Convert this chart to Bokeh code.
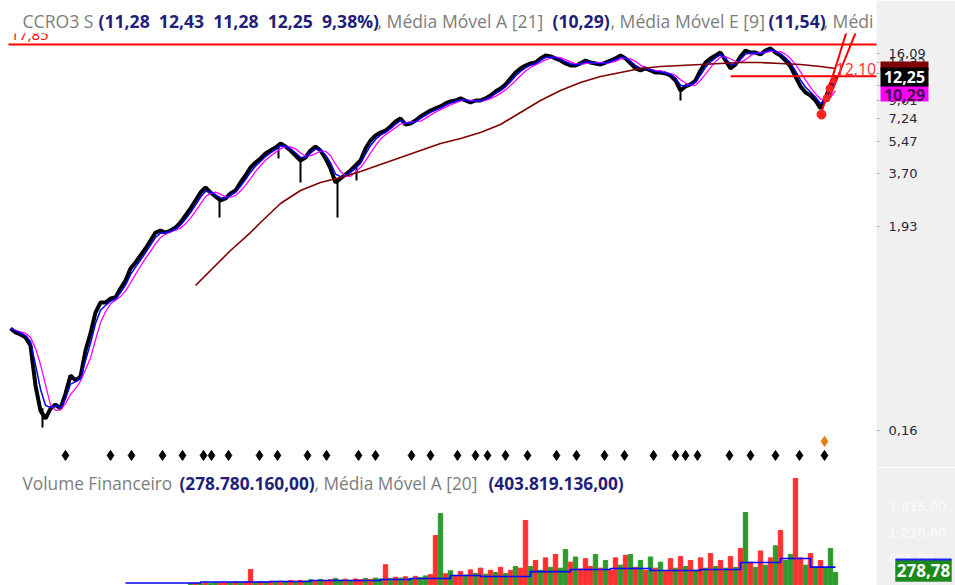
import math
import pandas as pd
from bokeh.plotting import figure
from bokeh.layouts import column
from bokeh.models import Range1d, FixedTicker, Label, BoxAnnotation
from bokeh.embed import file_html
from bokeh.resources import INLINE

# ---------------- data (weekly bars, sampled) ----------------
price_start, price_step = 10, 5
close = [
    0.556, 0.530, 0.517, 0.499, 0.452, 0.277, 0.204, 0.185, 0.209, 0.220,
    0.209, 0.251, 0.313, 0.295, 0.309, 0.425, 0.524, 0.676, 0.764, 0.764,
    0.803, 0.812, 0.907, 1.000, 1.158, 1.245, 1.357, 1.478, 1.630, 1.796,
    1.841, 1.796, 1.841, 1.909, 2.030, 2.212, 2.410, 2.657, 2.929, 3.113,
    2.929, 2.790, 2.657, 2.723, 2.895, 3.002, 3.309, 3.605, 3.975, 4.225,
    4.439, 4.718, 4.893, 5.075, 5.332, 5.140, 4.893, 4.603, 4.331, 4.491,
    4.893, 5.140, 4.893, 4.439, 3.928, 3.309, 3.477, 3.649, 3.832, 4.074,
    4.331, 5.015, 5.529, 5.877, 6.095, 6.247, 6.562, 6.975, 7.235, 6.721,
    6.807, 7.059, 7.415, 7.692, 7.976, 8.175, 8.379, 8.691, 8.906, 9.013,
    9.238, 9.013, 8.794, 9.013, 9.013, 9.238, 9.581, 10.06, 10.43, 10.96,
    11.80, 12.68, 13.33, 13.82, 14.17, 14.33, 15.06, 15.62, 15.43, 15.06,
    14.69, 14.17, 13.82, 13.82, 14.17, 14.69, 14.33, 14.17, 13.99, 14.33,
    14.69, 15.06, 15.62, 15.06, 14.17, 13.33, 13.00, 13.33, 13.00, 12.68,
    12.68, 12.53, 12.23, 11.51, 10.18, 10.70, 10.96, 11.51, 13.00, 14.33,
    15.06, 15.62, 16.19, 14.69, 13.33, 13.99, 15.43, 16.60, 16.19, 16.19,
    15.81, 16.60, 17.02, 16.19, 15.62, 14.69, 13.65, 12.08, 10.70, 9.93,
    9.581, 9.013, 8.175, 9.238, 10.96, 12.25,
]
bars = [price_start + price_step * i for i in range(len(close))]

# notable wicks (bar, low, high)
wick_bar = [42, 219, 278, 300, 337, 356, 680]
wick_low = [0.166, 2.158, 4.44, 3.31, 2.158, 3.39, 9.01]
wick_high = [0.21, 2.79, 5.20, 4.40, 3.40, 4.20, 10.5]

ma200_x = [195, 210, 230, 250, 260, 280, 300, 320, 340, 360, 380, 400, 420, 440, 460, 480, 500,
           520, 540, 560, 580, 600, 620, 640, 660, 680, 700, 720, 740, 760, 780, 800, 820, 835]
ma200 = [0.941, 1.130, 1.442, 1.796, 2.030, 2.561, 3.002, 3.309, 3.517, 3.786, 4.124, 4.491,
         4.893, 5.332, 5.668, 6.095, 6.721, 7.782, 9.013, 10.18, 11.23, 12.08, 12.68, 13.33,
         13.65, 13.82, 13.99, 14.17, 14.33, 14.33, 14.17, 13.99, 13.65, 13.33]

event_bars = [65, 110, 131, 162, 182, 203, 211, 228, 259, 277, 307, 326, 358, 375, 411, 430, 457,
              475, 487, 505, 527, 556, 576, 604, 624, 653, 675, 685, 697, 729, 750, 775, 799, 824]
event_level = 0.118
next_event_bar, next_event_level = 824, 0.140

price_ticks = [0.16, 1.93, 3.70, 5.47, 7.24, 9.01, 10.78, 12.55, 14.32, 16.09]
price_tick_labels = ["0,16", "1,93", "3,70", "5,47", "7,24", "9,01", "10,78", "12,55", "14,32", "16,09"]

resistance = 17.85
resistance_from = 8
support = 12.10
support_from = 730
trend1 = ([820, 848], [7.50, 22.5])
trend2 = ([829, 858], [9.35, 22.5])
anchor_x = [821, 826, 829, 833]
anchor_y = [7.59, 9.24, 10.43, 11.51]

vol_start, vol_step = 190, 5
volume = [
    20, 35, 25, 40, 30, 45, 35, 50, 40, 55,
    45, 60, 350, 50, 70, 55, 75, 60, 80, 70,
    90, 75, 95, 80, 110, 90, 120, 85, 115, 140,
    100, 125, 95, 130, 110, 140, 120, 150, 130, 460,
    140, 170, 150, 180, 140, 190, 160, 200, 230, 1140,
    1650, 250, 320, 210, 300, 220, 340, 260, 380, 240,
    330, 280, 400, 260, 330, 420, 380, 1490, 420, 560,
    330, 620, 400, 700, 380, 815, 520, 640, 360, 600,
    420, 700, 380, 560, 330, 620, 450, 680, 700, 400,
    560, 330, 640, 380, 520, 300, 600, 380, 650, 420,
    560, 330, 620, 380, 720, 420, 560, 380, 650, 400,
    840, 1675, 520, 400, 780, 450, 620, 900, 1255, 560,
    700, 2466, 620, 450, 720, 400, 560, 380, 840, 279,
]
direction = ("grgrggrrgr" "grrgrgrgrg" "rgrggrgrrg" "grgrrgrggr" "grgrgrggrr"
             "grgrrgrgrg" "rgrgrgrrgr" "grgrggrgrr" "rgrgrrgrgr" "grgrgrrgrg"
             "rgrgrgrgrg" "rgrgrgrgrg" "grrgrgrggg")
vol_bars = [vol_start + vol_step * i for i in range(len(volume))]

vol_ma_x = [125, 200, 270, 310, 380, 410, 450, 480, 530, 570, 610, 650, 700, 740, 780, 810, 835]
vol_ma = [35, 58, 70, 93, 116, 140, 210, 186, 300, 350, 372, 326, 350, 512, 605, 404, 404]

vol_ticks = [605, 1210, 1815]
vol_tick_labels = ["605,00", "1.210,00", "1.815,00"]

# ---------------- layout constants ----------------
W = 955
AXIS_X = 876
P_H = 467
V_H = 118
P_LO, P_HI = 0.1018, 30.57
V_LO, V_HI = -23, 2722

GRAY = "#7d7d7d"
NAVY = "#1f1f7a"
FONT = "Open Sans"
PANEL = "#f0f0f0"


def py(row):
    """price at a screen row of the price panel (annotation placement only)"""
    a, b = math.log10(P_LO), math.log10(P_HI)
    return 10 ** (a + (P_H - row) / P_H * (b - a))


def vy(row):
    return V_LO + (V_H - (row - P_H)) / V_H * (V_HI - V_LO)


xr = Range1d(0, W)


def setup(fig, ticks, labels, label_color, tick_color):
    fig.background_fill_color = "white"
    fig.border_fill_color = PANEL
    fig.outline_line_color = None
    fig.grid.visible = False
    ax = fig.yaxis[0]
    ax.fixed_location = AXIS_X
    ax.ticker = FixedTicker(ticks=ticks, minor_ticks=[])
    ax.major_label_overrides = dict(zip(ticks, labels))
    ax.axis_line_color = None
    ax.major_tick_in = 0
    ax.major_tick_out = 3
    ax.major_tick_line_color = tick_color
    ax.major_label_standoff = 9
    ax.major_label_text_font = "DejaVu Sans"
    ax.major_label_text_font_size = "13px"
    ax.major_label_text_color = label_color
    fig.add_layout(BoxAnnotation(left=AXIS_X, fill_color=PANEL, fill_alpha=1.0,
                                 line_color=None, level="underlay"))


# ---------------- price panel ----------------
p = figure(width=W, height=P_H, x_range=xr, y_range=Range1d(P_LO, P_HI), y_axis_type="log",
           x_axis_location=None, y_axis_location="right", toolbar_location=None,
           output_backend="svg", min_border=0)
setup(p, price_ticks, price_tick_labels, "#2a2a3a", "#b0b0b0")

s_close = pd.Series(close)
ema9 = s_close.ewm(alpha=0.6, adjust=False).mean()
sma21 = s_close.rolling(4, min_periods=1).mean()

p.line(bars, close, line_color="black", line_width=4)
p.segment(wick_bar, wick_low, wick_bar, wick_high, line_color="black", line_width=2)
p.line(bars, sma21, line_color="#ff00ff", line_width=1.3)
p.line(bars, ema9, line_color="#0000ff", line_width=1.5)
p.line(ma200_x, ma200, line_color="#800000", line_width=1.6)

p.scatter(event_bars, [event_level] * len(event_bars), marker="diamond", size=10, color="black")
p.scatter([next_event_bar], [next_event_level], marker="diamond", size=10, color="#e87d10")

p.line([resistance_from, AXIS_X], [resistance, resistance], line_color="#ff0000", line_width=2)
p.line([support_from, AXIS_X], [support, support], line_color="#ff0000", line_width=2)
p.line(trend1[0], trend1[1], line_color="#ff0000", line_width=2)
p.line(trend2[0], trend2[1], line_color="#ff0000", line_width=2)
p.scatter(anchor_x, anchor_y, size=[9, 7, 7, 6], color="#ff2020")

p.add_layout(Label(x=10, y=py(34), text="17,85", text_color="#ff0000", text_font=FONT,
                   text_font_size="15px", text_baseline="middle"))
p.add_layout(Label(x=835, y=py(68), text="12,10", text_color="#ff3030", text_font=FONT,
                   text_font_size="16px", text_baseline="middle"))
p.add_layout(BoxAnnotation(bottom=py(33), right=AXIS_X, fill_color="white", fill_alpha=1.0,
                           line_color=None))

price_title = [
    ("CCRO3 S", 22, GRAY, "normal"),
    ("(11,28\u00a0 12,43\u00a0 11,28\u00a0 12,25\u00a0 9,38%)", 98, NAVY, "bold"),
    (", Média Móvel A [21]", 377, GRAY, "normal"),
    ("(10,29)", 552, NAVY, "bold"),
    (", Média Móvel E [9]", 610, GRAY, "normal"),
    ("(11,54)", 768, NAVY, "bold"),
    (", Médi", 823, GRAY, "normal"),
]
for txt, x0, col, st in price_title:
    p.add_layout(Label(x=x0, y=py(20), text=txt, text_color=col, text_font=FONT,
                       text_font_style=st, text_font_size="17.6px", text_baseline="middle"))

# value boxes on the price scale
p.add_layout(BoxAnnotation(left=880, right=928, bottom=py(70), top=py(61),
                           fill_color="#800000", fill_alpha=1.0, line_color=None))
p.add_layout(BoxAnnotation(left=880, right=928, bottom=py(101), top=py(85),
                           fill_color="#ff00ff", fill_alpha=1.0, line_color=None))
p.add_layout(Label(x=904, y=py(94), text="10,29", text_color="#4a004a", text_font=FONT,
                   text_font_style="bold", text_font_size="16px", text_align="center",
                   text_baseline="middle"))
p.add_layout(BoxAnnotation(left=880, right=928, bottom=py(86), top=py(67),
                           fill_color="black", fill_alpha=1.0, line_color=None))
p.add_layout(Label(x=904, y=py(76.5), text="12,25", text_color="white", text_font=FONT,
                   text_font_style="bold", text_font_size="16px", text_align="center",
                   text_baseline="middle"))

# ---------------- volume panel ----------------
v = figure(width=W, height=V_H, x_range=xr, y_range=Range1d(V_LO, V_HI),
           x_axis_location=None, y_axis_location="right", toolbar_location=None,
           output_backend="svg", min_border=0)
setup(v, vol_ticks, vol_tick_labels, "#fbfbfb", "#fafafa")

colors = ["#2e9a2e" if d == "g" else "#ff3030" for d in direction]
v.vbar(x=vol_bars, top=volume, bottom=0, width=4.4, color=colors)
v.step(vol_ma_x, vol_ma, mode="after", line_color="#0000ff", line_width=1.6)

vol_title = [
    ("Volume Financeiro", 22, GRAY, "normal"),
    ("(278.780.160,00)", 179, NAVY, "bold"),
    (", Média Móvel A [20]", 314, GRAY, "normal"),
    ("(403.819.136,00)", 488, NAVY, "bold"),
]
for txt, x0, col, st in vol_title:
    v.add_layout(Label(x=x0, y=vy(483), text=txt, text_color=col, text_font=FONT,
                       text_font_style=st, text_font_size="17.3px", text_baseline="middle"))

v.add_layout(BoxAnnotation(left=895, right=951, bottom=vy(581), top=vy(559),
                           fill_color="#1b8a1b", fill_alpha=1.0, line_color="#0d5e0d"))
v.add_layout(BoxAnnotation(left=895, right=951, bottom=vy(560), top=vy(558),
                           fill_color="#2020ff", fill_alpha=1.0, line_color=None))
v.add_layout(Label(x=923, y=vy(570), text="278,78", text_color="white", text_font=FONT,
                   text_font_style="bold", text_font_size="17px", text_align="center",
                   text_baseline="middle"))

layout = column(p, v, spacing=0)
open("out.html", "w").write(file_html(layout, INLINE))
